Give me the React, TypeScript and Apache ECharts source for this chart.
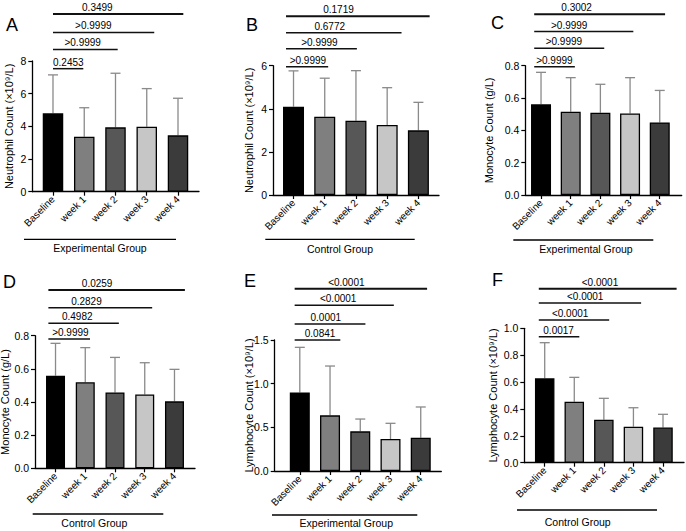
import React, { useEffect, useRef } from "react";
import * as echarts from "echarts";

const categories = ["Baseline", "week 1", "week 2", "week 3", "week 4"];

const neutroExpMean = [4.8, 3.37, 3.94, 3.98, 3.45];
const neutroExpSD = [2.35, 1.77, 3.31, 2.33, 2.27];
const neutroCtrlMean = [4.1, 3.63, 3.45, 3.25, 3.0];
const neutroCtrlSD = [1.66, 1.79, 2.32, 1.73, 1.3];
const monoExpMean = [0.561, 0.515, 0.509, 0.505, 0.449];
const monoExpSD = [0.198, 0.211, 0.176, 0.221, 0.198];
const monoCtrlMean = [0.559, 0.519, 0.458, 0.446, 0.404];
const monoCtrlSD = [0.195, 0.209, 0.211, 0.191, 0.193];
const lymphExpMean = [0.9, 0.637, 0.454, 0.366, 0.382];
const lymphExpSD = [0.516, 0.565, 0.141, 0.18, 0.351];
const lymphCtrlMean = [0.628, 0.454, 0.32, 0.268, 0.262];
const lymphCtrlSD = [0.265, 0.181, 0.159, 0.141, 0.098];

const pNeutroExp = ["0.2453", ">0.9999", ">0.9999", "0.3499"];
const pNeutroCtrl = [">0.9999", ">0.9999", "0.6772", "0.1719"];
const pMonoExp = [">0.9999", ">0.9999", ">0.9999", "0.3002"];
const pMonoCtrl = [">0.9999", "0.4982", "0.2829", "0.0259"];
const pLymphExp = ["0.0841", "0.0001", "<0.0001", "<0.0001"];
const pLymphCtrl = ["0.0017", "<0.0001", "<0.0001", "<0.0001"];

const yMaxNeutroExp = 8;
const yMaxNeutroCtrl = 6;
const yMaxMono = 0.8;
const yMaxLymphExp = 1.5;
const yMaxLymphCtrl = 1.0;

const titleNeutro = "Neutrophil Count (×10⁹/L)";
const titleMono = "Monocyte Count (g/L)";
const titleLymph = "Lymphocyte Count (×10⁹/L)";

const barColors = ["#000000", "#7f7f7f", "#575757", "#c6c6c6", "#3b3b3b"];
const FONT = '"Liberation Sans", Arial, sans-serif';

const panels = [
  {
    letter: "A", tl: 6, tt: 16,
    grid: { left: 32.3, top: 61, width: 166.7, height: 130.7 },
    xMin: -0.662, xMax: 4.672, barWidth: 20.5,
    yMax: yMaxNeutroExp, yInterval: 2, decimals: 0, yTitle: titleNeutro, nameGap: 18,
    mean: neutroExpMean, sd: neutroExpSD, p: pNeutroExp,
    group: "Experimental Group", groupLine: [24, 176, 239.3], groupText: [100, 248.3],
    levels: [7.53, 8.71, 9.75, 10.87], start: 0, ends: [0.97, 2.07, 3.24, 4.17], textX: [0.49, 0.95, 1.29, 1.42],
  },
  {
    letter: "B", tl: 246, tt: 16,
    grid: { left: 273, top: 65.7, width: 166, height: 129.3 },
    xMin: -0.657, xMax: 4.66, barWidth: 21,
    yMax: yMaxNeutroCtrl, yInterval: 2, decimals: 0, yTitle: titleNeutro, nameGap: 19,
    mean: neutroCtrlMean, sd: neutroCtrlSD, p: pNeutroCtrl,
    group: "Control Group", groupLine: [265.3, 414.7, 239.3], groupText: [340, 249],
    levels: [5.95, 6.79, 7.53, 8.29], start: -0.24, ends: [1.11, 2.03, 3.46, 4.36], textX: [0.46, 0.83, 1.16, 1.44],
  },
  {
    letter: "C", tl: 491, tt: 14,
    grid: { left: 525.3, top: 65.7, width: 156.4, height: 129.3 },
    xMin: -0.53, xMax: 4.74, barWidth: 20,
    yMax: yMaxMono, yInterval: 0.2, decimals: 1, yTitle: titleMono, nameGap: 30.6,
    mean: monoExpMean, sd: monoExpSD, p: pMonoExp,
    group: "Experimental Group", groupLine: [513.3, 653.3, 240], groupText: [586, 249],
    levels: [0.794, 0.908, 1.011, 1.118], start: -0.23, ends: [1.14, 2.13, 3.11, 4.18], textX: [0.45, 0.77, 0.95, 1.2],
  },
  {
    letter: "D", tl: 3, tt: 273,
    grid: { left: 35, top: 335.7, width: 160, height: 132.6 },
    xMin: -0.69, xMax: 4.69, barWidth: 19,
    yMax: yMaxMono, yInterval: 0.2, decimals: 1, yTitle: titleMono, nameGap: 24.5,
    mean: monoCtrlMean, sd: monoCtrlSD, p: pMonoCtrl,
    group: "Control Group", groupLine: [32.7, 163.3, 514], groupText: [94.3, 523.3],
    levels: [0.78, 0.875, 0.969, 1.075], start: -0.24, ends: [1.16, 2.13, 3.25, 4.35], textX: [0.5, 0.73, 1.04, 1.4],
  },
  {
    letter: "E", tl: 244, tt: 272,
    grid: { left: 274.7, top: 340, width: 166.6, height: 131 },
    xMin: -0.83, xMax: 4.68, barWidth: 20,
    yMax: yMaxLymphExp, yInterval: 0.5, decimals: 1, yTitle: titleLymph, nameGap: 20.7,
    mean: lymphExpMean, sd: lymphExpSD, p: pLymphExp,
    group: "Experimental Group", groupLine: [272, 417.3, 515], groupText: [346.3, 523.3],
    levels: [1.5, 1.683, 1.897, 2.087], start: -0.17, ends: [1.34, 2.17, 3.11, 4.21], textX: [0.67, 0.86, 1.27, 1.54],
  },
  {
    letter: "F", tl: 492, tt: 271,
    grid: { left: 524.3, top: 328.3, width: 159.7, height: 134.4 },
    xMin: -0.69, xMax: 4.71, barWidth: 19.5,
    yMax: yMaxLymphCtrl, yInterval: 0.2, decimals: 1, yTitle: titleLymph, nameGap: 25.6,
    mean: lymphCtrlMean, sd: lymphCtrlSD, p: pLymphCtrl,
    group: "Control Group", groupLine: [517, 657, 510], groupText: [577.7, 521.7],
    levels: [0.9375, 1.062, 1.188, 1.295], start: -0.2, ends: [1.17, 2.18, 3.26, 4.46], textX: [0.47, 0.86, 1.37, 1.87],
  },
];

function buildOption() {
  const grid: any[] = [];
  const xAxis: any[] = [];
  const yAxis: any[] = [];
  const series: any[] = [];
  const title: any[] = [];
  const graphic: any[] = [];
  const idx = categories.map((_, i) => i);

  panels.forEach((p, k) => {
    grid.push({ ...p.grid, containLabel: false, outerBoundsMode: "none" });
    title.push({
      text: p.letter, left: p.tl, top: p.tt, padding: 0,
      textStyle: { fontSize: 18, fontWeight: "normal", color: "#000", fontFamily: FONT },
    });
    xAxis.push({
      type: "value", gridIndex: k, min: p.xMin, max: p.xMax,
      splitLine: { show: false },
      axisLine: { show: true, onZero: false, lineStyle: { color: "#000", width: 1.3 } },
      axisTick: { show: true, customValues: idx, length: 4, lineStyle: { color: "#000", width: 1.2 } },
      axisLabel: {
        customValues: idx, rotate: 45, margin: 6, color: "#000", fontSize: 10, fontFamily: FONT,
        formatter: (v: number) => categories[Math.round(v)] ?? "",
      },
    });
    yAxis.push({
      type: "value", gridIndex: k, min: 0, max: p.yMax, interval: p.yInterval,
      name: p.yTitle, nameLocation: "middle", nameGap: p.nameGap, nameMoveOverlap: false,
      nameTextStyle: { fontSize: 11, color: "#000", fontFamily: FONT },
      splitLine: { show: false },
      axisLine: { show: true, onZero: false, lineStyle: { color: "#000", width: 1.3 } },
      axisTick: { show: true, length: 4, lineStyle: { color: "#000", width: 1.2 } },
      axisLabel: {
        margin: 6, color: "#000", fontSize: 10.5, fontFamily: FONT,
        formatter: (v: number) => v.toFixed(p.decimals),
      },
    });
    series.push({
      type: "custom", xAxisIndex: k, yAxisIndex: k, clip: false, z: 1,
      encode: { x: 0, y: 1 },
      data: p.mean.map((m, i) => [i, m, p.sd[i]]),
      renderItem: (params: any, api: any) => {
        const x = api.value(0), m = api.value(1), s = api.value(2);
        const p0 = api.coord([x, m]);
        const p1 = api.coord([x, m + s]);
        const st = { stroke: "#8a8a8a", lineWidth: 1.3 };
        return {
          type: "group",
          children: [
            { type: "line", shape: { x1: p0[0], y1: p0[1], x2: p1[0], y2: p1[1] }, style: st },
            { type: "line", shape: { x1: p1[0] - 5, y1: p1[1], x2: p1[0] + 5, y2: p1[1] }, style: st },
          ],
        };
      },
    });
    series.push({
      type: "bar", xAxisIndex: k, yAxisIndex: k, barWidth: p.barWidth, z: 2,
      data: p.mean.map((m, i) => ({ value: [i, m], itemStyle: { color: barColors[i] } })),
      itemStyle: { borderColor: "#000", borderWidth: 1.3 },
    });
    const labels = p.p;
    series.push({
      type: "custom", xAxisIndex: k, yAxisIndex: k, clip: false, z: 3,
      encode: { x: 0, y: 2 },
      data: labels.map((_, j) => [p.start, p.ends[j], p.levels[j], p.textX[j]]),
      renderItem: (params: any, api: any) => {
        const a = api.coord([api.value(0), api.value(2)]);
        const b = api.coord([api.value(1), api.value(2)]);
        const t = api.coord([api.value(3), api.value(2)]);
        const top = params.dataIndex === labels.length - 1;
        return {
          type: "group",
          children: [
            { type: "line", shape: { x1: a[0], y1: a[1], x2: b[0], y2: b[1] }, style: { stroke: "#111", lineWidth: top ? 2 : 1.5 } },
            {
              type: "text",
              style: {
                x: t[0], y: a[1] - 1.5, text: labels[params.dataIndex], fill: "#000",
                font: `10px ${FONT}`, align: "center", textAlign: "center",
                verticalAlign: "bottom", textVerticalAlign: "bottom",
              },
            },
          ],
        };
      },
    });
    graphic.push({
      type: "line", shape: { x1: p.groupLine[0], y1: p.groupLine[2], x2: p.groupLine[1], y2: p.groupLine[2] },
      style: { stroke: "#000", lineWidth: 1.3 },
    });
    graphic.push({
      type: "text", x: p.groupText[0], y: p.groupText[1],
      style: { text: p.group, fill: "#000", font: `10.5px ${FONT}`, align: "center", textAlign: "center", verticalAlign: "middle", textVerticalAlign: "middle" },
    });
  });

  return {
    animation: false,
    backgroundColor: "#ffffff",
    title, grid, xAxis, yAxis, series, graphic,
  };
}

export default function App() {
  const ref = useRef<HTMLDivElement>(null);
  useEffect(() => {
    if (!ref.current) return;
    const chart = echarts.init(ref.current, undefined, { renderer: "svg" });
    chart.setOption(buildOption() as any);
    return () => chart.dispose();
  }, []);
  return (
    <div
      ref={ref}
      style={{ position: "fixed", left: 0, top: 0, width: 686, height: 531, background: "#fff" }}
    />
  );
}
